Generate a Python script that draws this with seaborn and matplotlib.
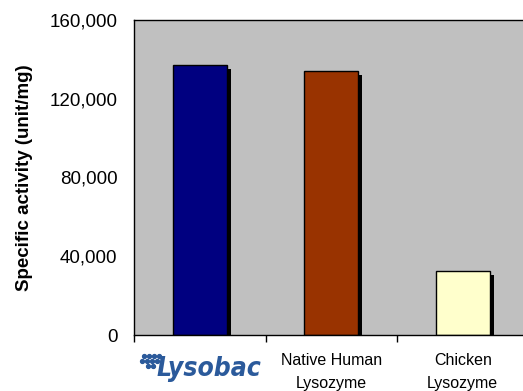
import matplotlib
matplotlib.use("Agg")
import matplotlib.pyplot as plt
import matplotlib.patheffects as pe
from matplotlib.ticker import FuncFormatter, FixedLocator
import seaborn as sns
import pandas as pd

categories = ["Lysobac", "Native Human\nLysozyme", "Chicken\nLysozyme"]
values = [137000, 134000, 32700]
bar_colors = ["#000080", "#993300", "#FFFFCC"]
y_ticks = [0, 40000, 80000, 120000, 160000]

sns.set_theme(style="white")
plt.rcParams["font.family"] = ["Liberation Sans", "DejaVu Sans"]

df = pd.DataFrame({"category": categories, "value": values})

fig = plt.figure(figsize=(5.23, 3.91), dpi=100)
ax = fig.add_axes([134 / 523, 1 - 335 / 391, 394.5 / 523, 315 / 391])
ax.set_facecolor("#C0C0C0")

sns.barplot(data=df, x="category", y="value", hue="category",
            palette=bar_colors, legend=False, width=0.41,
            edgecolor="black", linewidth=1.0, saturation=1, ax=ax, zorder=2)

for p in ax.patches:
    p.set_path_effects([pe.SimplePatchShadow(offset=(3, -3), shadow_rgbFace="black", alpha=1.0),
                        pe.Normal()])

ax.set_xlim(-0.5, 2.5)
ax.set_ylim(0, 160000)
ax.set_yticks(y_ticks)
ax.yaxis.set_major_formatter(FuncFormatter(lambda v, p: f"{int(v):,}"))
ax.tick_params(axis="y", length=0, pad=12, labelsize=13.5, colors="black")
ax.tick_params(axis="x", which="major", length=0, pad=13, labelsize=11.5, colors="black")
ax.xaxis.set_minor_locator(FixedLocator([-0.5, 0.5, 1.5, 2.5]))
ax.tick_params(axis="x", which="minor", length=5, width=1, direction="out", color="black", bottom=True)

for s in ax.spines.values():
    s.set_color("black")
    s.set_linewidth(1.0)
    s.set_visible(True)

ax.set_xlabel("")
ax.set_ylabel("Specific activity (unit/mg)", fontsize=13.5, fontweight="bold", color="black")
ax.yaxis.set_label_coords(-0.255, 0.5)

labels = ax.get_xticklabels()
labels[0].set_visible(False)
for lab in labels[1:]:
    lab.set_linespacing(1.65)

# logo as text
ax.text(0.07, -0.130, categories[0], transform=ax.get_xaxis_transform(),
        ha="center", va="baseline", fontfamily="DejaVu Sans", fontstyle="italic",
        fontweight="bold", fontstretch="condensed", fontsize=19, color="#2B5A9B")

# logo dots
dot_x = [144, 149, 154, 159, 142, 147, 152, 157, 148, 153]
dot_y = [356, 356, 356, 356, 361, 361, 361, 361, 366, 366]
fig.add_artist(plt.Line2D([x / 523 for x in dot_x], [1 - y / 391 for y in dot_y],
                          transform=fig.transFigure, linestyle="none", marker="o",
                          markersize=2.8, color="#2B5A9B"))

fig.savefig("out.png", dpi=100)
